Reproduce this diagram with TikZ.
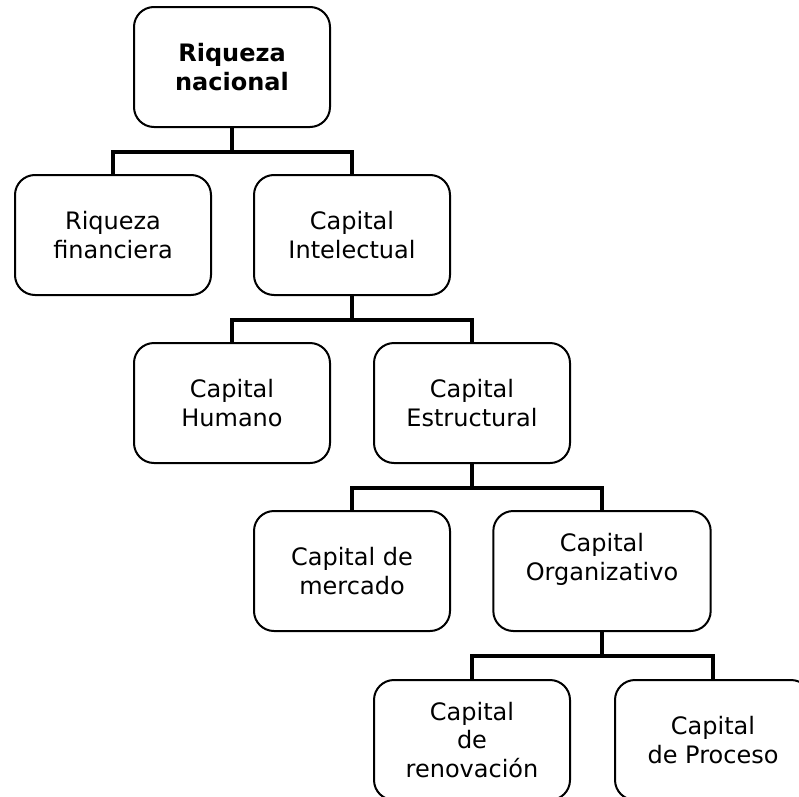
\documentclass[tikz,border=0pt]{standalone}
\usepackage{fontspec}
\setmainfont{DejaVu Sans}
\usepackage{tikz}
\tikzstyle{box}=[draw, rounded corners=15pt, line width=1.5pt, minimum width=147pt, minimum height=90pt, align=center, font=\fontsize{18}{21.5}\selectfont]
\tikzstyle{root}=[box, font=\fontsize{18}{21.5}\selectfont\bfseries]
\tikzstyle{link}=[line width=2.6pt]

\begin{document}
\begin{tikzpicture}[x=0.75pt,y=-0.75pt]
\useasboundingbox (0,0) rectangle (799,796);
\clip (0,0) rectangle (799,796);
% levels of the tree
\node (rn) at (232,67)[root] {Riqueza\\nacional};
\node (rf) at (113,235)[box] {Riqueza\\financiera};
\node (ci) at (352,235)[box] {Capital\\Intelectual};
\node (ch) at (232,403)[box] {Capital\\Humano};
\node (ce) at (472,403)[box] {Capital\\Estructural};
\node (cm) at (352,571)[box] {Capital de\\mercado};
\node (co) at (602,571)[box, minimum width=163pt] {Capital\\Organizativo\\\mbox{}};
\node (cr) at (472,740)[box] {Capital\\de\\renovaci\'on};
\node (cp) at (713,740)[box] {Capital\\de Proceso};
% connectors
\draw[link] (rn.south) -- ++(0,24) -| (rf.north);
\draw[link] (rn.south) -- ++(0,24) -| (ci.north);
\draw[link] (ci.south) -- ++(0,24) -| (ch.north);
\draw[link] (ci.south) -- ++(0,24) -| (ce.north);
\draw[link] (ce.south) -- ++(0,24) -| (cm.north);
\draw[link] (ce.south) -- ++(0,24) -| (co.north);
\draw[link] (co.south) -- ++(0,24) -| (cr.north);
\draw[link] (co.south) -- ++(0,24) -| (cp.north);
\end{tikzpicture}
\end{document}
